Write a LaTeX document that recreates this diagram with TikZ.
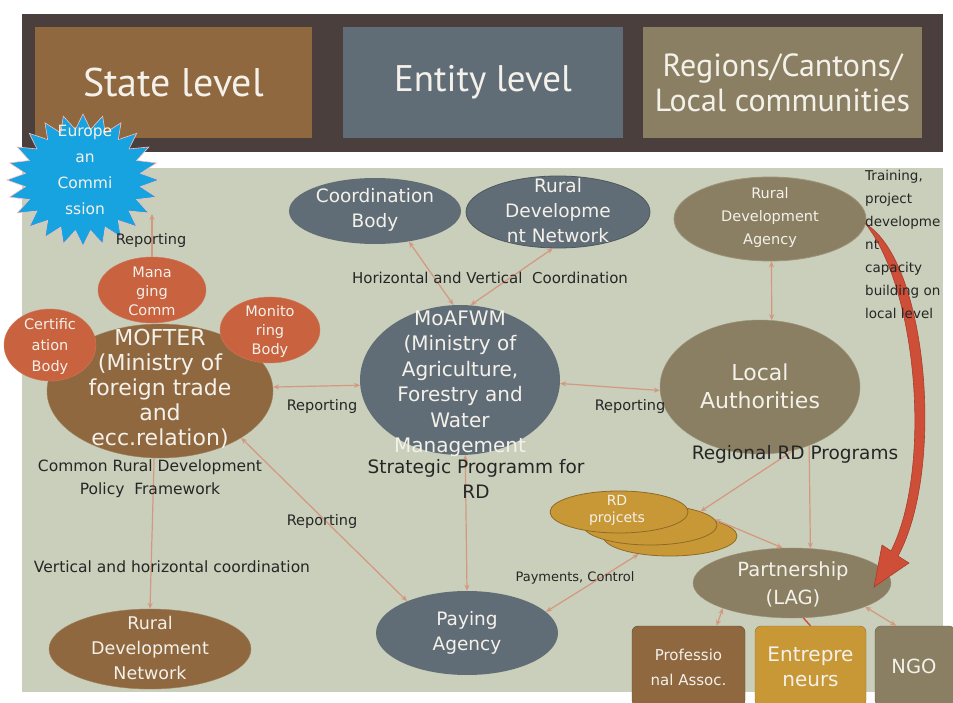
\documentclass[tikz,border=0pt]{standalone}
\usepackage{fontspec}
\setmainfont{DejaVu Sans}
\newfontfamily\headfont{PT Sans}
\usetikzlibrary{shapes.geometric,arrows.meta}
\definecolor{band}{HTML}{4B3F3D}
\definecolor{brownc}{HTML}{8F6840}
\definecolor{slate}{HTML}{616D76}
\definecolor{olive}{HTML}{8A7F62}
\definecolor{panel}{HTML}{C9CFBA}
\definecolor{redor}{HTML}{C8623F}
\definecolor{gold}{HTML}{C99836}
\definecolor{eublue}{HTML}{17A2E0}
\definecolor{connc}{HTML}{D4977F}
\definecolor{bigred}{HTML}{CF4E38}
\definecolor{txtw}{HTML}{F4F1EA}
\begin{document}
\begin{tikzpicture}[x=1pt,y=-1pt,
  ell/.style={ellipse,inner sep=0pt},
  wt/.style={text=txtw,align=center,inner sep=0pt},
  bt/.style={text=black!85,align=center,inner sep=0pt},
  lbl/.style={bt,font=\fontsize{14.5}{23}\selectfont},
  conn/.style={draw=connc,line width=1.2pt,{Stealth[length=6pt,width=5pt]}-{Stealth[length=6pt,width=5pt]}},
  conna/.style={draw=connc,line width=1.2pt,-{Stealth[length=6pt,width=5pt]}},
  box/.style={rounded corners=6pt,inner sep=0pt}]
\useasboundingbox (0,0) rectangle (953,703);
\fill[white] (0,0) rectangle (953,703);
% header band
\fill[band] (22,14) rectangle (943,152);
\node[box,fill=brownc,minimum width=277,minimum height=111,rounded corners=0pt] (state) at (173.5,82.5) {};
\node[box,fill=slate,minimum width=280,minimum height=111,rounded corners=0pt] (entity) at (483,82.5) {};
\node[box,fill=olive,minimum width=279,minimum height=111,rounded corners=0pt] (regions) at (782.5,82.5) {};
\node[wt,font=\headfont\fontsize{40}{44}\selectfont] (stateT) at (state) {State level};
\node[wt,font=\headfont\fontsize{37}{44}\selectfont] (entityT) at (entity) {Entity level};
\node[wt,font=\headfont\fontsize{32}{35}\selectfont] (regionsT) at (regions) {Regions/Cantons/\\Local communities};
% panel
\fill[panel] (22,168) rectangle (943,692);
% European Commission starburst
\fill[eublue,draw=white!75!red,line width=0.6pt] (159,180) \foreach \i in {1,...,47}{ -- ({83+cos(\i*7.5)*(67+9*cos(\i*180))},{180+sin(\i*7.5)*(58.5+7.5*cos(\i*180))}) } -- cycle;
\node[wt,font=\fontsize{15.5}{26}\selectfont] (eu) at (85,170) {Europe\\an\\Commi\\ssion};
\coordinate (euin) at (152,214);
% ellipses
\node[ell,fill=slate,minimum width=172,minimum height=66] (coord) at (375,211) {};
\node[ell,fill=slate,draw=slate!80!black,line width=0.8pt,minimum width=184,minimum height=72] (rdnT) at (558,212) {};
\node[ell,fill=olive,draw=olive!85!white,line width=0.8pt,minimum width=192,minimum height=84] (rda) at (770,219) {};
\node[ell,fill=brownc,draw=brownc!85!white,minimum width=226,minimum height=134] (mof) at (160,391) {};
\node[ell,fill=redor,draw=redor!85!white,minimum width=108,minimum height=66] (mana) at (152,290) {};
\node[ell,fill=redor,draw=redor!85!white,minimum width=100,minimum height=66] (moni) at (270,330) {};
\node[ell,fill=redor,draw=redor!85!white,minimum width=92,minimum height=72] (cert) at (50,345) {};
\node[ell,fill=slate,minimum width=200,minimum height=150] (moa) at (460,380) {};
\node[ell,fill=olive,draw=olive!85!white,minimum width=200,minimum height=134] (la) at (760,387) {};
\node[ell,fill=gold,draw=gold!70!black,line width=0.8pt,minimum width=134,minimum height=40] (rdp3) at (670,536) {};
\node[ell,fill=gold,draw=gold!70!black,line width=0.8pt,minimum width=134,minimum height=40] (rdp2) at (650,525) {};
\node[ell,fill=gold,draw=gold!70!black,line width=0.8pt,minimum width=138,minimum height=42] (rdp1) at (619,512) {};
\node[ell,fill=olive,draw=olive!85!white,minimum width=198,minimum height=70] (part) at (792,583) {};
\node[ell,fill=slate,minimum width=182,minimum height=84] (pay) at (467,633) {};
\node[ell,fill=brownc,draw=brownc!85!white,minimum width=202,minimum height=80] (rdnB) at (150,649) {};
\node[box,fill=brownc,draw=brownc!70!black,minimum width=113,minimum height=80] (prof) at (688.5,666) {};
\node[box,fill=gold,draw=gold!75!black,minimum width=111,minimum height=80] (entr) at (810.5,666) {};
\node[box,fill=olive,draw=olive!75!black,minimum width=80,minimum height=80] (ngo) at (915,666) {};
% texts in shapes
\node[wt,font=\fontsize{18.5}{25}\selectfont] (coordT) at (375,210) {Coordination\\Body};
\node[wt,font=\fontsize{18.5}{25}\selectfont] (rdnTT) at (558,211) {Rural\\Developme\\nt Network};
\node[wt,font=\fontsize{14.5}{23}\selectfont] (rdaT) at (770,218) {Rural\\Development\\Agency};
\node[wt,font=\fontsize{14.5}{19}\selectfont] (manaT) at (152,291) {Mana\\ging\\Comm};
\node[wt,font=\fontsize{14.5}{19}\selectfont] (moniT) at (270,331) {Monito\\ring\\Body};
\node[wt,font=\fontsize{14.5}{21}\selectfont] (certT) at (50,346) {Certific\\ation\\Body};
\node[wt,font=\fontsize{22}{25}\selectfont] (mofT) at (160,389) {MOFTER\\(Ministry of\\foreign trade\\and\\ecc.relation)};
\node[wt,font=\fontsize{20}{25.5}\selectfont] (moaT) at (460,384) {MoAFWM\\(Ministry of\\Agriculture,\\Forestry and\\Water\\Management};
\node[wt,font=\fontsize{22}{28}\selectfont] (laT) at (760,386) {Local\\Authorities};
\node[wt,font=\fontsize{14}{17}\selectfont] (rdpT) at (617,510) {RD\\projcets};
\node[wt,font=\fontsize{19.5}{28}\selectfont] (partT) at (793,584) {Partnership\\(LAG)};
\node[wt,font=\fontsize{18.5}{25}\selectfont] (payT) at (467,633) {Paying\\Agency};
\node[wt,font=\fontsize{17.5}{25}\selectfont] (rdnBT) at (150,648) {Rural\\Development\\Network};
\node[wt,font=\fontsize{15}{25}\selectfont] (profT) at (688.5,667) {Professio\\nal Assoc.};
\node[wt,font=\fontsize{20}{25}\selectfont] (entrT) at (810.5,667) {Entrepre\\neurs};
\node[wt,font=\fontsize{19.5}{25}\selectfont] (ngoT) at (914,666) {NGO};
% connectors
\draw[conna] (mana.north) -- (euin);
\draw[conn] (mof.2) -- (moa.183);
\draw[conn] (moa.-2) -- (la.182);
\draw[conn] (coord.-42) -- (moa.95);
\draw[conn] (rdnT.-98) -- (moa.82);
\draw[conn] (rda.-88) -- (la.80);
\draw[conna] (mof.-95) -- (rdnB.north);
\draw[conn] (mof.-30) -- (pay.152);
\draw[conn] (moa.-86) -- (pay.north);
\draw[conn] (pay.15) -- (rdp3.-150);
\draw[conna] (la.-62) -- (rdp2.15);
\draw[conna] (la.-50) -- (part.62);
\draw[conn] (rdp2.5) -- (part.105);
\draw[conn] (part.-160) -- (prof.55);
\draw[draw=bigred,line width=1.4pt] (part.-72) -- (entr.north);
\draw[conn] (part.-18) -- (ngo.115);
% big red curved arrow
\fill[bigred,draw=bigred!80!black,line width=0.6pt] (rda.-3) .. controls (928,262) and (945,470) .. (898,556) -- (909,563) -- (874,587) -- (882,545) -- (891,551) .. controls (932,470) and (918,290) .. (rda.-3) -- cycle;
% labels
\node[lbl] (repEU) at (151,241) {Reporting};
\node[lbl,font=\fontsize{15}{23}\selectfont] (hvc) at (490,278) {Horizontal and Vertical\ \ Coordination};
\node[lbl] (rep1) at (322,406) {Reporting};
\node[lbl] (rep2) at (630,406) {Reporting};
\node[lbl,font=\fontsize{15.5}{23}\selectfont] (crd) at (150,479) {Common Rural Development\\Policy\ \ Framework};
\node[bt,font=\fontsize{18.5}{25}\selectfont] (spr) at (476,479) {Strategic Programm for\\RD};
\node[bt,font=\fontsize{18.5}{20}\selectfont] (rrd) at (795,454) {Regional RD Programs};
\node[lbl] (rep3) at (322,521) {Reporting};
\node[lbl,font=\fontsize{15.5}{23}\selectfont] (vhc) at (172,567) {Vertical and horizontal coordination};
\node[lbl,font=\fontsize{13}{23}\selectfont] (pc) at (575,578) {Payments, Control};
\node[bt,align=left,anchor=north west,font=\fontsize{13.5}{23}\selectfont] (train) at (865,170) {Training,\\project\\developme\\nt\\capacity\\building on\\local level};
\end{tikzpicture}
\end{document}
